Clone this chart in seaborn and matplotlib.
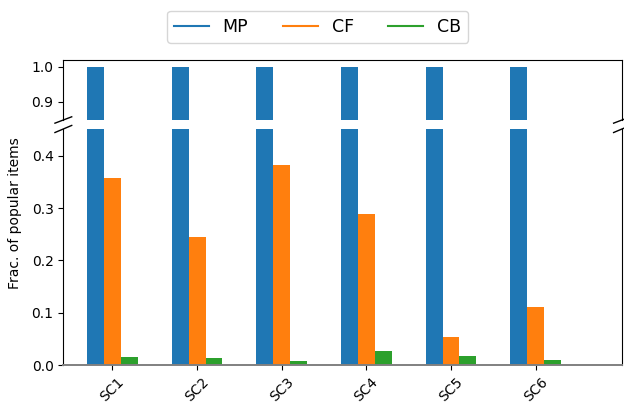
import matplotlib
matplotlib.use("Agg")
import matplotlib.pyplot as plt
from matplotlib.lines import Line2D
import seaborn as sns
import pandas as pd

# Fraction of popular items recommended per scenario and method
scenarios = ["SC1", "SC2", "SC3", "SC4", "SC5", "SC6"]
methods = ["MP", "CF", "CB"]
mp_vals = [1.0, 1.0, 1.0, 1.0, 1.0, 1.0]
cf_vals = [0.357, 0.244, 0.382, 0.288, 0.054, 0.112]
cb_vals = [0.015, 0.013, 0.008, 0.028, 0.017, 0.010]
colors = ["#1f77b4", "#ff7f0e", "#2ca02c"]

rows = []
for m, vals in zip(methods, [mp_vals, cf_vals, cb_vals]):
    for s, v in zip(scenarios, vals):
        rows.append({"scenario": s, "method": m, "frac": v})
df = pd.DataFrame(rows)

fig = plt.figure(figsize=(6.24, 4.07), dpi=100)
ax_top = fig.add_axes([0.1015, 0.7052, 0.8953, 0.1482])
ax_bot = fig.add_axes([0.1015, 0.1025, 0.8953, 0.5806])

for ax in (ax_top, ax_bot):
    sns.barplot(data=df, x="scenario", y="frac", hue="method",
                order=scenarios, hue_order=methods, palette=colors,
                width=0.6, saturation=1, linewidth=0, legend=False, ax=ax)
    ax.set_xlabel("")
    ax.set_ylabel("")
    ax.set_xlim(-0.58, 6.02)

ax_top.set_ylim(0.847, 1.021)
ax_bot.set_ylim(0, 0.451)
ax_top.set_yticks([0.9, 1.0])
ax_bot.set_yticks([0.0, 0.1, 0.2, 0.3, 0.4])

ax_top.spines["bottom"].set_visible(False)
ax_top.tick_params(axis="x", bottom=False, labelbottom=False)
ax_bot.spines["top"].set_visible(False)
ax_bot.spines["bottom"].set_color("#808080")
ax_bot.spines["bottom"].set_linewidth(1.4)
ax_bot.tick_params(axis="x", labelrotation=45)
for lab in ax_bot.get_xticklabels():
    lab.set_horizontalalignment("center")

# Diagonal break marks on both spines
d = 0.015
kw = dict(color="k", clip_on=False, linewidth=1)
r = 0.1482 / 0.5806
ax_top.plot((-d, +d), (-d / r * 0.9, +d / r * 0.9), transform=ax_top.transAxes, **kw)
ax_top.plot((1 - d, 1 + d), (-d / r * 0.9, +d / r * 0.9), transform=ax_top.transAxes, **kw)
ax_bot.plot((-d, +d), (1 - d, 1 + d), transform=ax_bot.transAxes, **kw)
ax_bot.plot((1 - d, 1 + d), (1 - d, 1 + d), transform=ax_bot.transAxes, **kw)

fig.text(0.024, 0.4767, "Frac. of popular items", rotation=90,
         va="center", ha="center", fontsize=10)

handles = [Line2D([0], [0], color=c, lw=1.5) for c in colors]
fig.legend(handles, methods, loc="upper center", bbox_to_anchor=(0.509, 0.995),
           ncol=3, fontsize=12.5, frameon=True)

fig.savefig("out.png", dpi=100)
